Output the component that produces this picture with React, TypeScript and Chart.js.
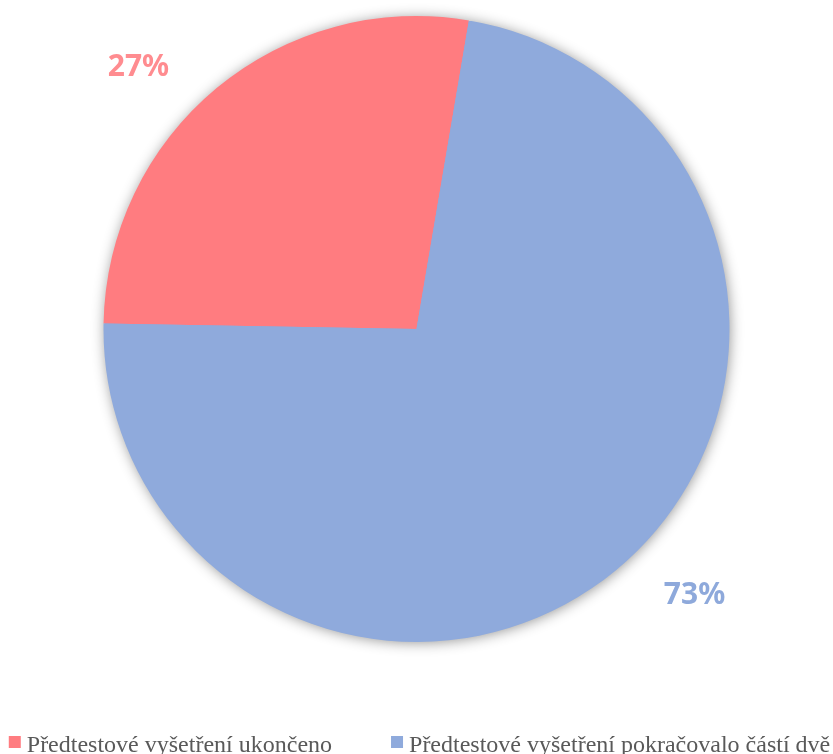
import React, { useEffect, useRef } from "react";
import { Chart, registerables } from "chart.js";

Chart.register(...registerables);

const categories = ["Předtestové vyšetření ukončeno", "Předtestové vyšetření pokračovalo částí dvě"];
const values = [27.4, 72.6];
const percentLabels = ["27%", "73%"];
const sliceColors = ["#FF7C80", "#8FAADC"];
const labelColors = ["#FF8C90", "#8EA9DB"];

const shadowPlugin = {
  id: "pieShadow",
  beforeDatasetsDraw(chart: any) {
    const meta = chart.getDatasetMeta(0);
    const arc = meta.data[0];
    if (!arc) return;
    const { x, y, outerRadius } = arc.getProps(["x", "y", "outerRadius"], true);
    const ctx = chart.ctx;
    ctx.save();
    ctx.shadowColor = "rgba(0,0,0,0.45)";
    ctx.shadowBlur = 14;
    ctx.shadowOffsetX = 1;
    ctx.shadowOffsetY = 1;
    ctx.beginPath();
    ctx.arc(x, y, outerRadius - 1, 0, Math.PI * 2);
    ctx.fillStyle = "#8FAADC";
    ctx.fill();
    ctx.restore();
  },
};

const labelPlugin = {
  id: "outsideLabels",
  afterDatasetsDraw(chart: any) {
    const meta = chart.getDatasetMeta(0);
    const ctx = chart.ctx;
    ctx.save();
    ctx.font = "bold 30px 'Noto Sans', 'DejaVu Sans', sans-serif";
    ctx.textAlign = "center";
    ctx.textBaseline = "middle";
    meta.data.forEach((arc: any, i: number) => {
      const { x, y, startAngle, endAngle, outerRadius } = arc.getProps(
        ["x", "y", "startAngle", "endAngle", "outerRadius"],
        true
      );
      const mid = (startAngle + endAngle) / 2 - (6.8 * Math.PI) / 180;
      const r = outerRadius * 1.225;
      ctx.fillStyle = labelColors[i];
      ctx.fillText(percentLabels[i], x + Math.cos(mid) * r, y + Math.sin(mid) * r + 2);
    });
    ctx.restore();
  },
};

const legendPlugin = {
  id: "bottomLegend",
  afterDraw(chart: any) {
    const ctx = chart.ctx;
    ctx.save();
    ctx.font = "24px 'Liberation Serif', 'Times New Roman', serif";
    const box = 12;
    const gap = 6;
    const spacing = 59;
    const widths = categories.map((c) => box + gap + ctx.measureText(c).width);
    const total = widths.reduce((a, b) => a + b, 0) + spacing * (categories.length - 1);
    let x = (chart.width - total) / 2 + 3;
    const baseY = chart.height - 2;
    categories.forEach((c, i) => {
      ctx.fillStyle = sliceColors[i];
      ctx.fillRect(x, baseY - 16, box, box);
      ctx.fillStyle = "#595959";
      ctx.textBaseline = "alphabetic";
      ctx.textAlign = "left";
      ctx.fillText(c, x + box + gap, baseY);
      x += widths[i] + spacing;
    });
    ctx.restore();
  },
};

export default function App() {
  const canvasRef = useRef<HTMLCanvasElement>(null);

  useEffect(() => {
    document.body.style.margin = "0";
    const canvas = canvasRef.current;
    if (!canvas) return;
    const chart = new Chart(canvas, {
      type: "pie",
      data: {
        labels: categories,
        datasets: [
          {
            data: values,
            backgroundColor: sliceColors,
            borderWidth: 0,
          },
        ],
      },
      options: {
        responsive: false,
        animation: false,
        rotation: 271,
        layout: { padding: { top: 16, bottom: 112, left: 0, right: 0 } },
        plugins: {
          legend: { display: false },
          tooltip: { enabled: false },
        },
      },
      plugins: [shadowPlugin, labelPlugin, legendPlugin],
    });
    return () => chart.destroy();
  }, []);

  return (
    <div style={{ width: 833, height: 754, background: "#ffffff" }}>
      <canvas ref={canvasRef} width={833} height={754} style={{ display: "block" }} />
    </div>
  );
}
